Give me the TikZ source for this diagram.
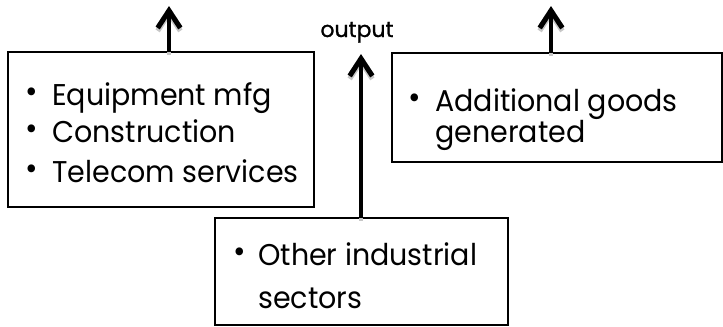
\documentclass[tikz,border=0pt]{standalone}
\usepackage{fontspec}
\setmainfont{Poppins}
\newfontfamily\boxfont[FakeStretch=0.95]{Poppins}
\newfontfamily\tagfont[FakeBold=1]{Poppins}
\usetikzlibrary{arrows.meta,fit}

\begin{document}
\begin{tikzpicture}[x=0.75pt,y=-0.75pt,
  frame/.style={draw=black, line width=1.3pt, inner sep=0pt, outer sep=0pt},
  itemtext/.style={anchor=base west, inner sep=0pt, font=\boxfont\fontsize{22.5}{26}\selectfont},
  dot/.style={anchor=base, inner sep=0pt, font=\boxfont\fontsize{24}{28}\selectfont},
  flow/.style={line width=2.8pt, -{Straight Barb[length=13pt,width=17pt,line width=3.8pt]}},
  flowshade/.style={flow, draw=black!22, transform canvas={yshift=-2.2pt}}
]
\useasboundingbox (0,0) rectangle (723,326);

% corner points of the three boxes
\coordinate (lA) at (8,52);   \coordinate (lB) at (314,207);
\coordinate (rA) at (392,53); \coordinate (rB) at (722,162);
\coordinate (bA) at (215,218); \coordinate (bB) at (508,325);

\node[frame, fit=(lA)(lB)] (leftbox) {};
\node[frame, fit=(rA)(rB)] (rightbox) {};
\node[frame, fit=(bA)(bB)] (lowbox) {};

% arrow tips
\coordinate (ltip) at (169,6);
\coordinate (rtip) at (551,6);
\coordinate (mtip) at (361,54);

\draw[flowshade] (leftbox.north -| ltip) -- (ltip);
\draw[flowshade] (rightbox.north -| rtip) -- (rtip);
\draw[flowshade] (lowbox.north -| mtip) -- (mtip);
\draw[flow] (leftbox.north -| ltip) -- (ltip);
\draw[flow] (rightbox.north -| rtip) -- (rtip);
\draw[flow] (lowbox.north -| mtip) -- (mtip);

\node[anchor=base, inner sep=0pt, font=\tagfont\fontsize{16.5}{18}\selectfont] (outlbl) at (357,37) {output};

% left box items
\node[dot] (lb1) at (32,102) {•};
\node[itemtext] (lt1) at (52,105) {Equipment mfg};
\node[dot] (lb2) at (32,139) {•};
\node[itemtext] (lt2) at (52,142) {Construction};
\node[dot] (lb3) at (32,179) {•};
\node[itemtext] (lt3) at (52,182) {Telecom services};

% right box item
\node[dot] (rb1) at (415,108) {•};
\node[itemtext] (rt1) at (435,111) {Additional goods};
\node[itemtext] (rt2) at (435,142) {generated};

% lower box item
\node[dot] (bb1) at (240,262) {•};
\node[itemtext] (bt1) at (258,265) {Other industrial};
\node[itemtext] (bt2) at (258,308) {sectors};
\end{tikzpicture}
\end{document}
